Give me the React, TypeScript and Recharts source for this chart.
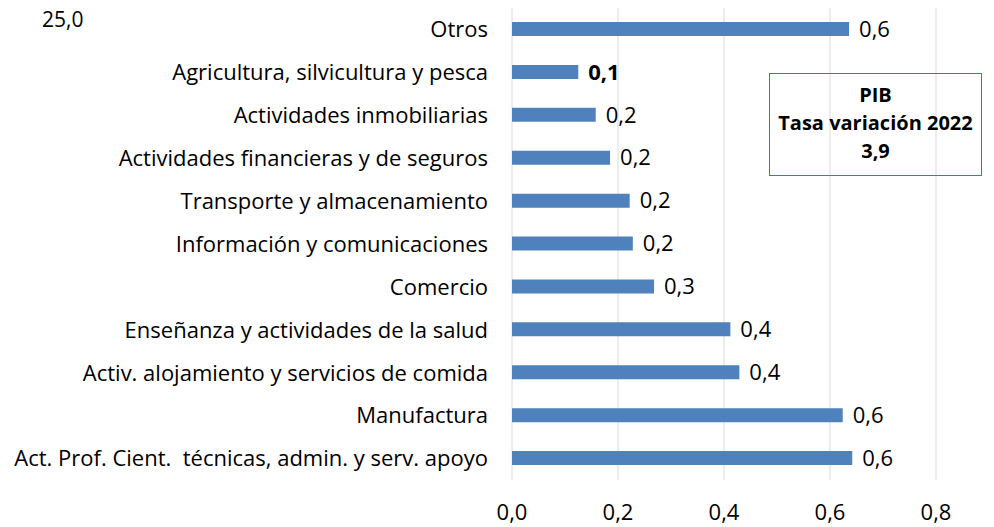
import React from 'react';
import { BarChart, Bar, XAxis, YAxis, CartesianGrid, LabelList } from 'recharts';

const categories = [
  'Otros',
  'Agricultura, silvicultura y pesca',
  'Actividades inmobiliarias',
  'Actividades financieras y de seguros',
  'Transporte y almacenamiento',
  'Información y comunicaciones',
  'Comercio',
  'Enseñanza y actividades de la salud',
  'Activ. alojamiento y servicios de comida',
  'Manufactura',
  'Act. Prof. Cient.\u00a0 técnicas, admin. y serv. apoyo',
];

const values = [0.636, 0.125, 0.158, 0.185, 0.222, 0.228, 0.268, 0.412, 0.429, 0.624, 0.642];

const xTicks = [0, 0.2, 0.4, 0.6, 0.8];

const boldCategory = 'Agricultura, silvicultura y pesca';

const data = categories.map((name, i) => ({ name, value: values[i] }));

const FONT = "'Open Sans', sans-serif";

const fmt = (v: number, digits = 1) => v.toFixed(digits).replace('.', ',');

const ValueLabel = (props: any) => {
  const { x, y, width, height, value, index } = props;
  const bold = categories[index] === boldCategory;
  return (
    <text
      x={x + width + 10}
      y={y + height / 2}
      dy="0.35em"
      fill="#000"
      fontSize={22}
      fontFamily={FONT}
      fontWeight={bold ? 700 : 400}
    >
      {fmt(value)}
    </text>
  );
};

const App: React.FC = () => {
  return (
    <div style={{ position: 'absolute', left: 0, top: 0, width: 994, height: 527, background: '#fff', fontFamily: FONT }}>
      <BarChart
        width={994}
        height={527}
        data={data}
        layout="vertical"
        margin={{ top: 8, right: 58, bottom: 0, left: 0 }}
        barSize={14}
      >
        <CartesianGrid horizontal={false} stroke="#d9d9d9" />
        <XAxis
          type="number"
          domain={[0, 0.8]}
          ticks={xTicks}
          axisLine={false}
          tickLine={false}
          height={47}
          tickMargin={18}
          tick={{ fill: '#000', fontSize: 22, fontFamily: FONT }}
          tickFormatter={(v: number) => fmt(v)}
        />
        <YAxis
          type="category"
          dataKey="name"
          width={512}
          axisLine={false}
          tickLine={false}
          tickMargin={18}
          interval={0}
          tick={{ fill: '#000', fontSize: 22, fontFamily: FONT }}
        />
        <Bar dataKey="value" fill="#4f81bd" isAnimationActive={false}>
          <LabelList dataKey="value" content={<ValueLabel />} />
        </Bar>
      </BarChart>
      <div style={{ position: 'absolute', left: 42, top: 5, fontSize: 21, color: '#000' }}>25,0</div>
      <div
        style={{
          position: 'absolute',
          left: 769,
          top: 73,
          width: 213,
          height: 103,
          border: '1px solid #4472c4',
          textAlign: 'center',
          fontWeight: 700,
          fontSize: 20,
          lineHeight: '28px',
          paddingTop: 7,
          boxSizing: 'border-box',
          color: '#000',
        }}
      >
        <div>PIB</div>
        <div>Tasa variación 2022</div>
        <div>3,9</div>
      </div>
    </div>
  );
};

export default App;
